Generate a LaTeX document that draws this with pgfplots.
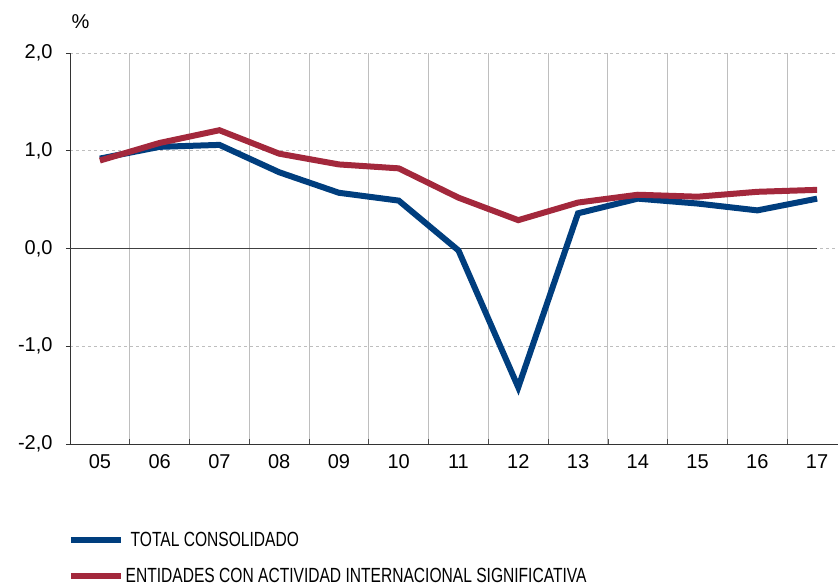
\documentclass[border=0pt]{standalone}
\usepackage{pgfplots}
\pgfplotsset{compat=1.18}
\usepackage{fontspec}
\setmainfont{Liberation Sans}
\usepackage{graphicx}
\definecolor{cblue}{RGB}{0,62,126}
\definecolor{cred}{RGB}{163,40,60}
\definecolor{gridc}{RGB}{190,190,190}
\begin{document}
\begin{tikzpicture}
\begin{axis}[
  scale only axis, width=768pt, height=391pt,
  xmin=-0.5, xmax=12.35, ymin=-2, ymax=2,
  axis x line*=bottom, axis y line*=left,
  axis line style={black!80, line width=0.9pt},
  xtick={0,...,12},
  xticklabels={05,06,07,08,09,10,11,12,13,14,15,16,17},
  major x tick style={draw=none},
  minor xtick={0.5,1.5,...,11.5},
  xminorgrids,
  minor grid style={gridc, solid, line width=1pt},
  minor x tick style={black!70, line width=0.8pt},
  minor tick length=5pt,
  xtick align=inside,
  ytick={-2,-1,0,1,2},
  yticklabels={{-2,0},{-1,0},{0,0},{1,0},{2,0}},
  ytick align=outside,
  major tick length=4pt,
  major y tick style={black!80, line width=0.8pt},
  ymajorgrids,
  major grid style={gridc, dash pattern=on 3pt off 3pt, line width=0.9pt},
  tick label style={font=\fontsize{20}{24}\selectfont},
  xticklabel style={yshift=-7pt},
  yticklabel style={xshift=-10pt},
  legend style={draw=none, fill=none, at={(0,0)}, anchor=north west,
    xshift=-2pt, yshift=-86pt, row sep=16pt, inner sep=0pt,
    font=\fontsize{20.5}{24}\selectfont},
  legend cell align=left,
  legend image code/.code={\draw[#1, line width=5.5pt] (0pt,0pt) -- (50pt,0pt);},
  clip=false,
]
\addplot[black!75, line width=0.9pt, forget plot] coordinates {(-0.5,0) (12,0)};
\addplot[cblue, line width=6pt, line join=miter] coordinates {
 (0,0.92) (1,1.04) (2,1.06) (3,0.78) (4,0.57) (5,0.49) (6,-0.02)
 (7,-1.42) (8,0.36) (9,0.51) (10,0.46) (11,0.39) (12,0.51)};
\addlegendentry{\hspace{5pt}\scalebox{0.76}[1]{TOTAL CONSOLIDADO}}
\addplot[cred, line width=6pt, line join=miter] coordinates {
 (0,0.90) (1,1.08) (2,1.21) (3,0.97) (4,0.86) (5,0.82) (6,0.52)
 (7,0.29) (8,0.47) (9,0.55) (10,0.53) (11,0.58) (12,0.60)};
\addlegendentry{\scalebox{0.76}[1]{ENTIDADES CON ACTIVIDAD INTERNACIONAL SIGNIFICATIVA}}
\node[anchor=base west, font=\fontsize{20}{24}\selectfont] at ([xshift=-2pt,yshift=25pt]axis description cs:0,1) {\%};
\end{axis}
\pgfresetboundingbox
\path (current axis.south west) ++(-70pt,-143pt) rectangle ++(838pt,587pt);
\end{tikzpicture}
\end{document}
